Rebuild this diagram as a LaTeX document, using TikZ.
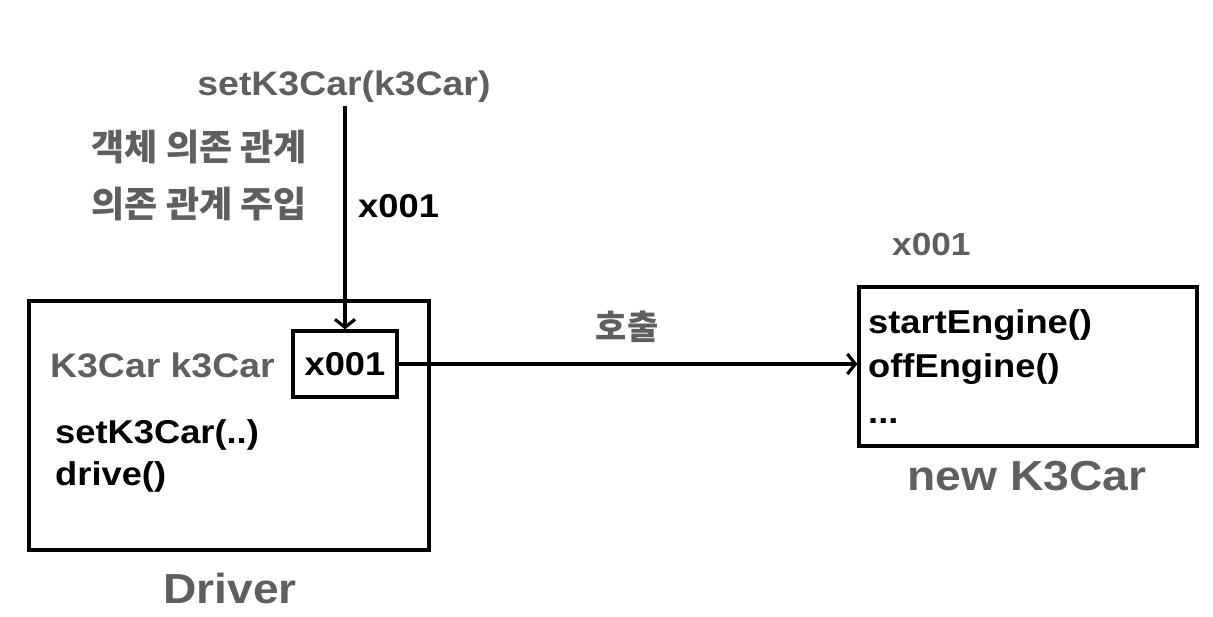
\documentclass[tikz,border=0pt]{standalone}
\usepackage{fontspec}
\setmainfont{Liberation Sans}[FakeStretch=1.1]
\newfontfamily\kr{Noto Sans CJK KR}
\usetikzlibrary{arrows.meta}
\definecolor{tg}{RGB}{95,95,95}
\begin{document}
\begin{tikzpicture}[x=1pt,y=-1pt,
  box/.style={draw,line width=3.2pt,inner sep=0pt},
  conn/.style={line width=3.2pt,-{Straight Barb[length=8pt,width=20pt]}},
  gl/.style={text=tg,font=\fontsize{34}{40}\selectfont\bfseries,inner sep=0pt},
  big/.style={text=tg,font=\fontsize{42}{48}\selectfont\bfseries,inner sep=0pt},
  bl/.style={text=black,font=\fontsize{33}{39}\selectfont\bfseries,inner sep=0pt},
  kl/.style={text=tg,font=\kr\fontsize{36}{42}\selectfont\bfseries,inner sep=0pt}]
\useasboundingbox (0,0) rectangle (1213,616);
% Driver
\node[box,minimum width=400pt,minimum height=249pt] (driver) at (229,425.5) {};
\node[box,minimum width=104pt,minimum height=66pt,bl] (inner) at (345,364) {x001};
\node[gl,anchor=base west] (field) at (50,377) {K3Car k3Car};
\node[bl,anchor=base west] (m1) at (55,443) {setK3Car(..)};
\node[bl,anchor=base west] (m2) at (55,485) {drive()};
\node[big,anchor=base] (dname) at (230,603) {Driver};
% setter
\node[gl,anchor=base] (setter) at (344,95) {setK3Car(k3Car)};
\node[kl,anchor=east] (k1) at (307,147) {객체 의존 관계};
\node[kl,anchor=east] (k2) at (307,204) {의존 관계 주입};
\node[bl,anchor=base west] (ref) at (358,217) {x001};
\coordinate (atop) at (345,106);
\draw[conn] (atop) -- (inner.north);
% K3Car
\node[box,minimum width=338pt,minimum height=159pt] (car) at (1028,366.5) {};
\node[gl,anchor=base west,font=\fontsize{32}{38}\selectfont\bfseries] (addr) at (892,255) {x001};
\node[bl,anchor=base west] (c1) at (868,333) {startEngine()};
\node[bl,anchor=base west] (c2) at (868,377) {offEngine()};
\node[bl,anchor=base west] (c3) at (868,423) {...};
\node[big,anchor=base] (cname) at (1027,490) {new K3Car};
% call
\draw[conn] (inner.east) -- (inner.east -| car.west);
\node[kl,font=\kr\fontsize{34}{40}\selectfont\bfseries] (call) at (627,327) {호출};
\end{tikzpicture}
\end{document}
